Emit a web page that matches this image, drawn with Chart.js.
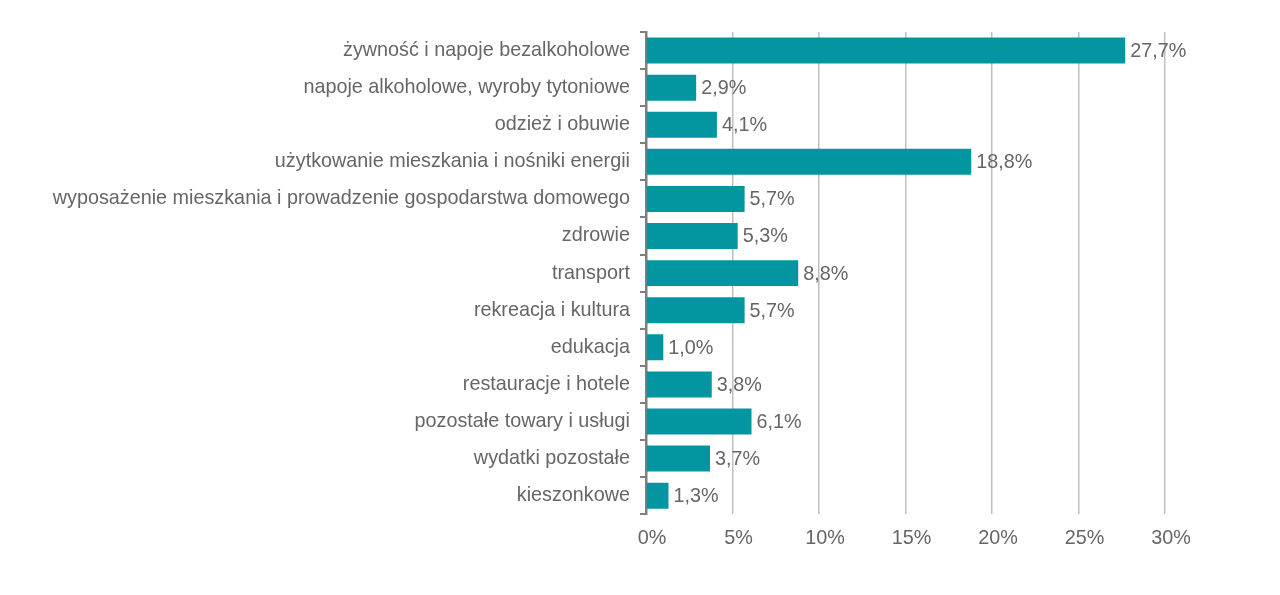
<!DOCTYPE html>
<html>
<head>
<meta charset="utf-8">
<script src="https://cdn.jsdelivr.net/npm/chart.js@4/dist/chart.umd.min.js"></script>
<style>
html,body{margin:0;padding:0;background:#fff;}
#wrap{width:1280px;height:595px;position:relative;}
</style>
</head>
<body>
<div id="wrap"><canvas id="c" width="1280" height="595"></canvas></div>
<script>
const categories = [
  "żywność i napoje bezalkoholowe",
  "napoje alkoholowe, wyroby tytoniowe",
  "odzież i obuwie",
  "użytkowanie mieszkania i nośniki energii",
  "wyposażenie mieszkania i prowadzenie gospodarstwa domowego",
  "zdrowie",
  "transport",
  "rekreacja i kultura",
  "edukacja",
  "restauracje i hotele",
  "pozostałe towary i usługi",
  "wydatki pozostałe",
  "kieszonkowe"
];
const shares = [27.7, 2.9, 4.1, 18.8, 5.7, 5.3, 8.8, 5.7, 1.0, 3.8, 6.1, 3.7, 1.3];
const xTicks = [0, 5, 10, 15, 20, 25, 30];

const FONT = "'Liberation Sans', Arial, sans-serif";
const TXT = "#666666";

const valueLabels = {
  id: 'valueLabels',
  afterDatasetsDraw(chart) {
    const ctx = chart.ctx;
    const meta = chart.getDatasetMeta(0);
    ctx.save();
    ctx.font = "19.8px " + FONT;
    ctx.fillStyle = TXT;
    ctx.textAlign = 'left';
    ctx.textBaseline = 'middle';
    meta.data.forEach((bar, i) => {
      const v = shares[i];
      ctx.fillText(v.toFixed(1).replace('.', ',') + '%', bar.x + 5, bar.y + 1);
    });
    ctx.restore();
  }
};

new Chart(document.getElementById('c'), {
  type: 'bar',
  data: {
    labels: categories,
    datasets: [{
      data: shares,
      backgroundColor: '#0396A0',
      borderWidth: 0,
      barPercentage: 0.7,
      categoryPercentage: 1.0
    }]
  },
  options: {
    indexAxis: 'y',
    responsive: false,
    animation: false,
    layout: { padding: { top: 32, right: 115, bottom: 33, left: 0 } },
    plugins: { legend: { display: false }, tooltip: { enabled: false } },
    scales: {
      x: {
        min: 0, max: 30,
        afterBuildTicks(scale) { scale.ticks = xTicks.map(v => ({ value: v })); },
        grid: { color: '#BFBFBF', lineWidth: 1.5, drawTicks: false },
        border: { display: false },
        ticks: {
          color: TXT, font: { family: FONT, size: 19.8 }, padding: 12, labelOffset: 6,
          callback: v => v + '%'
        }
      },
      y: {
        afterFit(scale) { scale.width = 646; },
        grid: { drawOnChartArea: false, drawTicks: true, tickLength: 6, color: '#7F7F7F', lineWidth: 2 },
        border: { display: true, color: '#7F7F7F', width: 2.5 },
        ticks: { color: TXT, font: { family: FONT, size: 19.8 }, padding: 10 }
      }
    }
  },
  plugins: [valueLabels]
});
</script>
</body>
</html>
